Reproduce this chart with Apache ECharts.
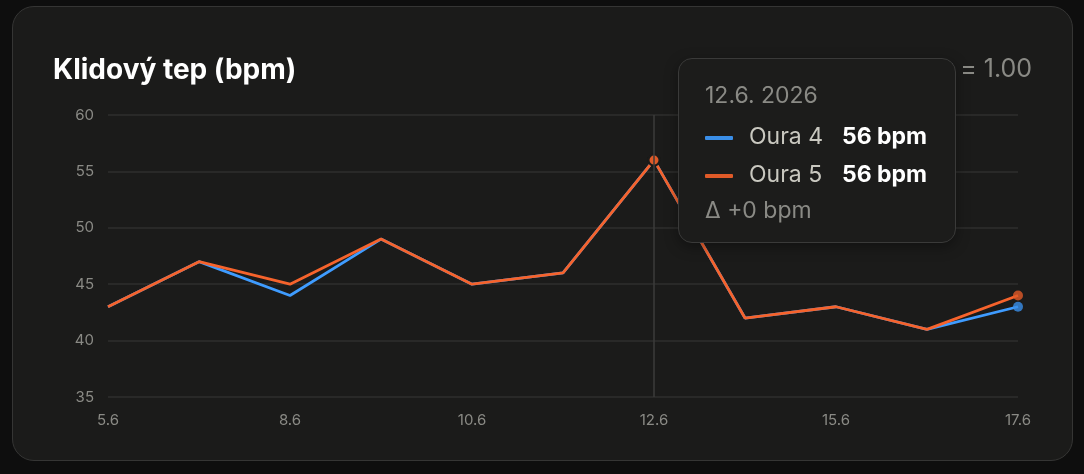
<!DOCTYPE html>
<html>
<head>
<meta charset="utf-8">
<script src="https://cdn.jsdelivr.net/npm/echarts@6/dist/echarts.min.js"></script>
<style>
  html, body { margin:0; padding:0; width:1084px; height:474px; background:#0e0e0e; overflow:hidden; font-family: Inter, "Noto Sans", sans-serif; }
  #card { position:absolute; left:12px; top:6px; width:1059px; height:453px; background:#1b1b1a; border:1px solid #353534; border-radius:22px; }
  #chart { position:absolute; left:0; top:0; width:1084px; height:474px; }
</style>
</head>
<body>
<div id="card"></div>
<div id="chart"></div>
<script>
const title = 'Klidový tep (bpm)';
const corrText = 'r = 1.00';
const categories = ['5.6','6.6','8.6','9.6','10.6','11.6','12.6','14.6','15.6','16.6','17.6'];
const oura4 = [43, 47, 44, 49, 45, 46, 56, 42, 43, 41, 43];
const oura5 = [43, 47, 45, 49, 45, 46, 56, 42, 43, 41, 44];
const seriesNames = ['Oura 4', 'Oura 5'];
const yTicks = { min: 35, max: 60, interval: 5 };
const tipIndex = 6;
const tipDate = '12.6. 2026';

const BLUE = '#3a8ee8';
const ORANGE = '#e05a28';
const FONT = 'Inter, "Noto Sans", sans-serif';
const last = categories.length - 1;

const chart = echarts.init(document.getElementById('chart'), null, { renderer: 'canvas' });

function tipHtml(i) {
  const d = oura5[i] - oura4[i];
  const row = (c, n, v) =>
    '<div style="height:38px;line-height:38px;white-space:nowrap;">' +
    '<span style="display:inline-block;width:28px;height:4px;background:' + c + ';vertical-align:middle;margin-right:16px;border-radius:1px;"></span>' +
    '<span style="display:inline-block;width:93px;color:#c9c8c0;">' + n + '</span>' +
    '<span style="color:#ffffff;font-weight:700;">' + v + ' bpm</span></div>';
  return '<div style="font-family:Inter, \'Noto Sans\', sans-serif;font-size:23px;">' +
    '<div style="height:30px;line-height:28px;color:#8a8a85;">' + tipDate + '</div>' +
    '<div style="height:6px;"></div>' +
    row(BLUE, seriesNames[0], oura4[i]) +
    row(ORANGE, seriesNames[1], oura5[i]) +
    '<div style="height:36px;line-height:34px;color:#8a8a85;white-space:nowrap;">Δ ' + (d >= 0 ? '+' : '') + d + ' bpm</div>' +
    '</div>';
}

const option = {
  animation: false,
  title: {
    text: title,
    left: 48, top: 52,
    textStyle: { color: '#ffffff', fontSize: 28, fontWeight: 700, fontFamily: FONT }
  },
  graphic: [{
    type: 'text', right: 52, top: 57,
    style: { text: corrText, fill: '#8a8a85', fontSize: 25, fontFamily: FONT }
  }],
  grid: { left: 108, right: 66, top: 115, bottom: 77 },
  tooltip: {
    trigger: 'axis',
    alwaysShowContent: true,
    triggerOn: 'none',
    backgroundColor: '#1c1c1b',
    borderColor: '#3a3a39',
    borderWidth: 1,
    padding: [22, 26],
    extraCssText: 'border-radius:14px;width:278px;height:185px;box-sizing:border-box;box-shadow:0 4px 14px rgba(0,0,0,0.35);',
    position: function () { return [678, 58]; },
    formatter: function (params) { return tipHtml(params[0].dataIndex); },
    axisPointer: { type: 'line', lineStyle: { color: '#3c3c3b', width: 1.5, type: 'solid' } }
  },
  xAxis: {
    type: 'category',
    data: categories,
    boundaryGap: false,
    axisLine: { show: false },
    axisTick: { show: false },
    axisLabel: { interval: 1, color: '#8a8a85', fontSize: 15, margin: 16, fontFamily: FONT },
    splitLine: { show: false }
  },
  yAxis: {
    type: 'value',
    min: yTicks.min, max: yTicks.max, interval: yTicks.interval,
    axisLine: { show: false },
    axisTick: { show: false },
    axisLabel: { color: '#8a8a85', fontSize: 15, margin: 14, fontFamily: FONT },
    splitLine: { lineStyle: { color: '#2f2f2e', width: 1.5 } }
  },
  series: [
    {
      name: seriesNames[0], type: 'line', data: oura4,
      showSymbol: false, symbol: 'circle', symbolSize: 11,
      lineStyle: { color: BLUE, width: 2.8 },
      itemStyle: { color: BLUE, borderColor: '#1b1b1a', borderWidth: 2 },
      emphasis: { scale: false, lineStyle: { width: 2.8 } },
      z: 2
    },
    {
      name: seriesNames[1], type: 'line', data: oura5,
      showSymbol: false, symbol: 'circle', symbolSize: 11,
      lineStyle: { color: ORANGE, width: 2.8 },
      itemStyle: { color: ORANGE, borderColor: '#1b1b1a', borderWidth: 2 },
      emphasis: { scale: false, lineStyle: { width: 2.8 } },
      z: 3
    },
    {
      type: 'scatter', data: [[last, oura4[last]]], symbolSize: 10,
      itemStyle: { color: BLUE }, silent: true, z: 4, tooltip: { show: false }
    },
    {
      type: 'scatter', data: [[last, oura5[last]]], symbolSize: 10,
      itemStyle: { color: ORANGE }, silent: true, z: 5, tooltip: { show: false }
    }
  ]
};

chart.setOption(option);
chart.dispatchAction({ type: 'showTip', seriesIndex: 1, dataIndex: tipIndex });
</script>
</body>
</html>
